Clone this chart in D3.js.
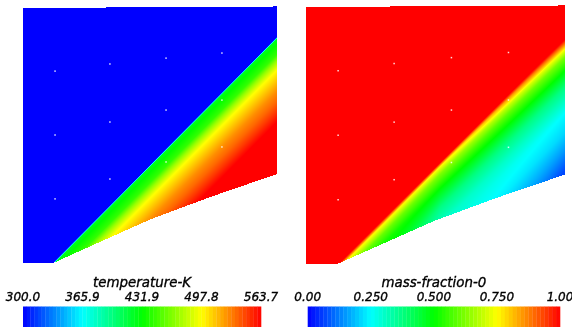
<!DOCTYPE html>
<html>
<head>
<meta charset="utf-8">
<script src="https://cdn.jsdelivr.net/npm/d3@7"></script>
<style>
  body { margin: 0; background: #fff; overflow: hidden; }
  canvas, svg { position: absolute; left: 0; top: 0; }
</style>
</head>
<body>
<canvas id="field" width="572" height="327"></canvas>
<svg id="overlay" width="572" height="327"></svg>
<script>
// wedge domain, wall is slightly curved
const outline = [[0, 0], [0.122, 0], [0.302, 0.081], [0.499, 0.169], [0.735, 0.257], [1, 0.348], [1, 1.006], [0, 1]];
const shockFrom = [0.122, 0];
const shockTo = [1, 0.884];

// temperature behind the shock, vs vertical distance below it
const tempDy = [-0.004, 0.004, 0.03, 0.065, 0.09, 0.125, 0.17, 0.21, 0.25, 0.29, 0.33, 0.6];
const tempK  = [300, 425, 434, 445, 470, 497, 513, 527, 537, 550, 563.7, 563.7];

// mass fraction, three stations along the shock (r = 0 at the corner, 1 at the outflow)
const massR = [0.2, 0.45, 1.0];
const massDy = [
  [-0.01, 0.005, 0.023, 0.06, 0.1, 0.6],
  [-0.01, 0.005, 0.02, 0.05, 0.105, 0.18, 0.25, 0.6],
  [-0.01, 0.01, 0.025, 0.047, 0.078, 0.132, 0.195, 0.296, 0.374, 0.44, 0.52, 0.6]
];
const massY = [
  [1, 1, 0.75, 0.6, 0.52, 0.3],
  [1, 1, 0.75, 0.62, 0.5, 0.37, 0.3, 0.2],
  [1, 1, 0.9, 0.75, 0.62, 0.5, 0.375, 0.25, 0.21, 0.15, 0.07, 0.06]
];

// probe points (white dots)
const probeX = [0.125, 0.341, 0.562, 0.782];
const probeY = [[0.752, 0.501, 0.250], [0.780, 0.552, 0.328], [0.803, 0.599, 0.395], [0.823, 0.638, 0.454]];

const tempTicks = [300.0, 365.9, 431.9, 497.8, 563.7];
const tempLabels = ["300.0", "365.9", "431.9", "497.8", "563.7"];
const massTicks = [0, 0.25, 0.5, 0.75, 1];
const massLabels = ["0.00", "0.250", "0.500", "0.750", "1.00"];

const rainbow = d3.scaleLinear()
  .domain([0, 0.25, 0.5, 0.75, 1])
  .range(["#0000ff", "#00ffff", "#00ff00", "#ffff00", "#ff0000"])
  .clamp(true);

const tempProfile = d3.scaleLinear().domain(tempDy).range(tempK).clamp(true);
const massProfiles = massR.map((r, i) => d3.scaleLinear().domain(massDy[i]).range(massY[i]).clamp(true));

function shockY(x) {
  return shockFrom[1] + (shockTo[1] - shockFrom[1]) * (x - shockFrom[0]) / (shockTo[0] - shockFrom[0]);
}

function tempAt(x, y) {
  if (x < shockFrom[0]) return tempK[0];
  return tempProfile(shockY(x) - y);
}

function massAt(x, y) {
  if (x < shockFrom[0]) return 1;
  const dy = shockY(x) - y;
  let r = (x - shockFrom[0]) / (shockTo[0] - shockFrom[0]);
  r = Math.max(massR[0], Math.min(1, r));
  let i = 0;
  while (i < massR.length - 2 && r > massR[i + 1]) i++;
  const t = (r - massR[i]) / (massR[i + 1] - massR[i]);
  return massProfiles[i](dy) * (1 - t) + massProfiles[i + 1](dy) * t;
}

const panels = [
  {
    x: d3.scaleLinear().domain([0, 1]).range([23.3, 277.3]),
    y: d3.scaleLinear().domain([0, 1]).range([262.5, 8]),
    value: tempAt,
    norm: d3.scaleLinear().domain([tempTicks[0], tempTicks[4]]).range([0, 1]),
    bar: [23, 261],
    title: "temperature-K",
    ticks: tempTicks,
    labels: tempLabels
  },
  {
    x: d3.scaleLinear().domain([0, 1]).range([305.7, 565]),
    y: d3.scaleLinear().domain([0, 1]).range([264, 7]),
    value: massAt,
    norm: d3.scaleLinear().domain([0, 1]).range([0, 1]),
    bar: [307.7, 560],
    title: "mass-fraction-0",
    ticks: massTicks,
    labels: massLabels
  }
];

// fields on canvas, pixel by pixel
const canvas = document.getElementById("field");
const ctx = canvas.getContext("2d");
const img = ctx.createImageData(572, 327);

panels.forEach(p => {
  const x0 = Math.floor(p.x(0)), x1 = Math.ceil(p.x(1));
  const y0 = Math.floor(p.y(1.01)), y1 = Math.ceil(p.y(0));
  for (let py = y0; py <= y1; py++) {
    for (let px = x0; px <= x1; px++) {
      const xd = p.x.invert(px + 0.5), yd = p.y.invert(py + 0.5);
      if (!d3.polygonContains(outline, [xd, yd])) continue;
      const c = d3.rgb(rainbow(p.norm(p.value(xd, yd))));
      const k = (py * 572 + px) * 4;
      img.data[k] = c.r; img.data[k + 1] = c.g; img.data[k + 2] = c.b; img.data[k + 3] = 255;
    }
  }
});
ctx.putImageData(img, 0, 0);

const svg = d3.select("#overlay");

panels.forEach(p => {
  const g = svg.append("g");

  // probe dots
  probeX.forEach((px, i) => {
    probeY[i].forEach(py => {
      g.append("rect")
        .attr("x", p.x(px) - 0.75)
        .attr("y", p.y(py) - 0.75)
        .attr("width", 1.5)
        .attr("height", 1.5)
        .attr("fill", "#fff")
        .attr("opacity", 0.85);
    });
  });

  // colour bar
  const bx = d3.scaleLinear().domain([p.ticks[0], p.ticks[4]]).range(p.bar);
  const nBands = 64;
  const bw = (p.bar[1] - p.bar[0]) / nBands;
  g.selectAll(".band")
    .data(d3.range(nBands))
    .enter()
    .append("rect")
    .attr("x", d => p.bar[0] + d * bw)
    .attr("y", 306.5)
    .attr("width", bw + 0.3)
    .attr("height", 21)
    .attr("fill", d => rainbow((d + 0.5) / nBands));

  g.append("text")
    .attr("x", (p.bar[0] + p.bar[1]) / 2)
    .attr("y", 287)
    .attr("text-anchor", "middle")
    .style("font-family", "'DejaVu Sans'")
    .style("font-style", "italic")
    .style("font-size", "13.4px")
    .style("stroke", "#000")
    .style("stroke-width", "0.35px")
    .text(p.title);

  g.selectAll(".tick")
    .data(p.ticks)
    .enter()
    .append("text")
    .attr("x", d => bx(d))
    .attr("y", 300.5)
    .attr("text-anchor", "middle")
    .style("font-family", "'DejaVu Sans'")
    .style("font-style", "italic")
    .style("font-size", "12px")
    .style("stroke", "#000")
    .style("stroke-width", "0.35px")
    .text((d, i) => p.labels[i]);
});
</script>
</body>
</html>
